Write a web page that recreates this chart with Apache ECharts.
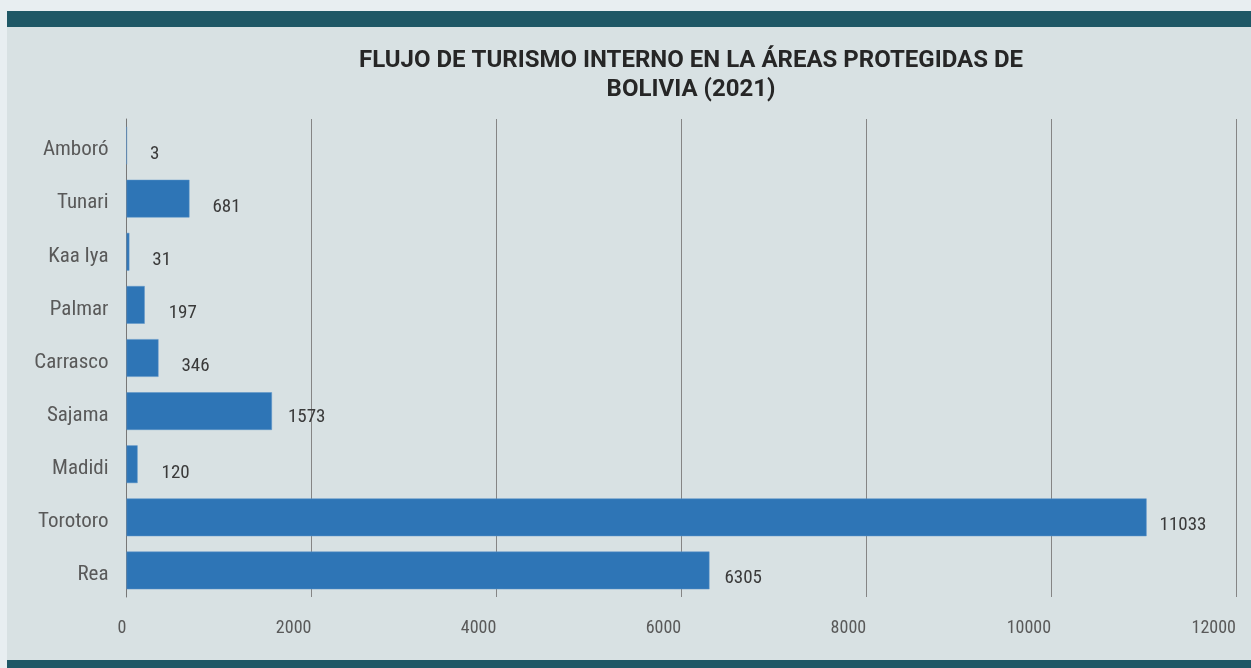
<!DOCTYPE html>
<html>
<head>
<meta charset="utf-8">
<script src="https://cdn.jsdelivr.net/npm/echarts@6/dist/echarts.min.js"></script>
<style>
  html, body { margin: 0; padding: 0; background: #e8eef1; }
  #panel { position: absolute; left: 7px; top: 11px; right: 0; height: 649px; background: #d8e1e3; border-top: 16px solid #1f5866; box-sizing: border-box; }
  #band { position: absolute; left: 7px; top: 660px; right: 0; height: 8px; background: #1f5866; }
  #chart { position: absolute; left: 0; top: 0; width: 1251px; height: 668px; }
</style>
</head>
<body>
<div id="panel"></div>
<div id="band"></div>
<div id="chart"></div>
<script>
// areas protegidas, top to bottom
var categories = ['Amboró', 'Tunari', 'Kaa Iya', 'Palmar', 'Carrasco', 'Sajama', 'Madidi', 'Torotoro', 'Rea']
var visitors = [3, 681, 31, 197, 346, 1573, 120, 11033, 6305]
var xTicks = [0, 2000, 4000, 6000, 8000, 10000, 12000]

// label nudges as seen in the original (x gap after bar end, y shift)
var labelShift = [[23, 9], [23, 9], [23, 8], [24, 8], [23, 8], [16, 6], [24, 9], [13, 8], [15, 8]]

var narrow = "'Liberation Sans Narrow', 'Roboto Condensed', 'DejaVu Sans Condensed', sans-serif"

var chart = echarts.init(document.getElementById('chart'))

var barData = visitors.map(function (v, i) {
  return {
    value: v,
    label: { offset: labelShift[i] }
  }
})

chart.setOption({
  backgroundColor: 'transparent',
  animation: false,
  title: {
    text: 'FLUJO DE TURISMO INTERNO EN LA ÁREAS PROTEGIDAS DE\nBOLIVIA (2021)',
    left: 686,
    top: 41,
    textAlign: 'center',
    textStyle: {
      fontFamily: 'Roboto',
      fontWeight: 'bold',
      fontSize: 24,
      lineHeight: 29,
      color: '#262626'
    }
  },
  grid: {
    left: 126.5,
    right: 15,
    top: 119,
    bottom: 71,
    containLabel: false,
    outerBoundsMode: 'none'
  },
  xAxis: {
    type: 'value',
    min: xTicks[0],
    max: xTicks[xTicks.length - 1],
    interval: xTicks[1] - xTicks[0],
    axisLine: { show: false },
    axisTick: { show: false },
    axisLabel: {
      margin: 22,
      align: 'right',
      color: '#595959',
      fontFamily: narrow,
      fontSize: 18,
      formatter: function (v) { return String(v) }
    },
    splitLine: {
      show: true,
      lineStyle: { color: '#858585', width: 1 }
    }
  },
  yAxis: {
    type: 'category',
    data: categories,
    inverse: true,
    axisLine: { show: true, lineStyle: { color: '#777777', width: 1 } },
    axisTick: { show: false },
    axisLabel: {
      margin: 18,
      formatter: function (v) { return '{c|' + v + '}' },
      rich: {
        c: {
          color: '#595959',
          fontFamily: narrow,
          fontSize: 21,
          padding: [9, 0, 0, 0]
        }
      }
    }
  },
  series: [{
    name: 'Visitantes',
    type: 'bar',
    data: barData,
    barCategoryGap: '29%',
    itemStyle: {
      color: '#2e75b6',
      borderColor: '#5b93c8',
      borderWidth: 0.5
    },
    label: {
      show: true,
      position: 'right',
      distance: 0,
      color: '#3a3a3a',
      fontFamily: narrow,
      fontSize: 19
    }
  }]
})
</script>
</body>
</html>
